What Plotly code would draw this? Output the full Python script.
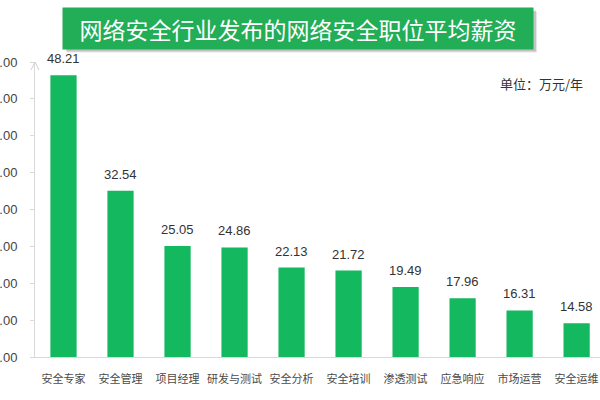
import plotly.graph_objects as go

categories = ["安全专家", "安全管理", "项目经理", "研发与测试", "安全分析",
              "安全培训", "渗透测试", "应急响应", "市场运营", "安全运维"]
salaries = [48.21, 32.54, 25.05, 24.86, 22.13, 21.72, 19.49, 17.96, 16.31, 14.58]
y_ticks = [10, 15, 20, 25, 30, 35, 40, 45, 50]
title_text = "网络安全行业发布的网络安全职位平均薪资"
unit_text = "单位：万元/年"

FONT = "Liberation Sans, Noto Sans CJK SC, sans-serif"
CJK = "Noto Sans CJK SC, sans-serif"

fig = go.Figure(go.Bar(
    x=categories,
    y=salaries,
    marker=dict(color="#14b85e", line=dict(width=0)),
    width=0.46,
    cliponaxis=False,
))

for c, v in zip(categories, salaries):
    fig.add_annotation(
        x=c, y=v, xref="x", yref="y",
        text=f"{v:.2f}", showarrow=False,
        xanchor="center", yanchor="bottom", yshift=7,
        font=dict(family=FONT, size=13, color="#333333"),
    )

fig.update_layout(
    width=600, height=400,
    margin=dict(l=35, r=0, t=62, b=43, autoexpand=False),
    paper_bgcolor="white", plot_bgcolor="white",
    showlegend=False,
    font=dict(family=FONT),
    xaxis=dict(
        range=[-0.5, 9.41],
        showgrid=False, zeroline=False,
        showline=True, linecolor="#d9d9d9", linewidth=1,
        ticks="", ticklabelstandoff=12,
        tickfont=dict(family=CJK, size=11, color="#4a4a4a"),
        automargin=False,
    ),
    yaxis=dict(
        range=[10, 50],
        tickvals=y_ticks,
        ticktext=[f"{v:.2f}" for v in y_ticks],
        showgrid=False, zeroline=False,
        showline=True, linecolor="#d9d9d9", linewidth=1,
        ticks="outside", ticklen=4, tickcolor="#d9d9d9",
        ticklabelstandoff=10,
        tickfont=dict(family=FONT, size=13, color="#444444"),
        automargin=False,
    ),
)

# axis arrow head at top of y-axis
fig.add_shape(
    type="path",
    xref="x domain", yref="y domain",
    xsizemode="pixel", ysizemode="pixel",
    xanchor=0, yanchor=1,
    path="M -4,-8 L 0,0 L 4,-8",
    line=dict(color="#d0d0d0", width=1),
)

tx = (298 - 35) / 565
ty = (357 - 28) / 295
# title box shadow (soft, offset to bottom-right)
for off, alpha in [(4, 0.10), (3, 0.15)]:
    fig.add_shape(
        type="rect", xref="paper", yref="paper",
        xsizemode="pixel", ysizemode="pixel",
        xanchor=tx, yanchor=ty,
        x0=-235 + off, x1=235 + off, y0=-20.5 - off, y1=20.5 - off,
        fillcolor=f"rgba(0,0,0,{alpha})", line=dict(width=0),
        layer="above",
    )
# title box
fig.add_annotation(
    xref="paper", yref="paper", x=tx, y=ty,
    xanchor="center", yanchor="middle",
    text=title_text, showarrow=False,
    width=470, height=41, borderpad=0,
    bgcolor="#22ad57",
    font=dict(family=CJK, size=23, color="white"),
)

fig.add_annotation(
    xref="paper", yref="paper",
    x=(585 - 35) / 565, y=(357 - 83) / 295,
    xanchor="right", yanchor="middle",
    text=unit_text, showarrow=False,
    font=dict(family=CJK, size=13, color="#333333"),
)

fig.write_html("out.html")
